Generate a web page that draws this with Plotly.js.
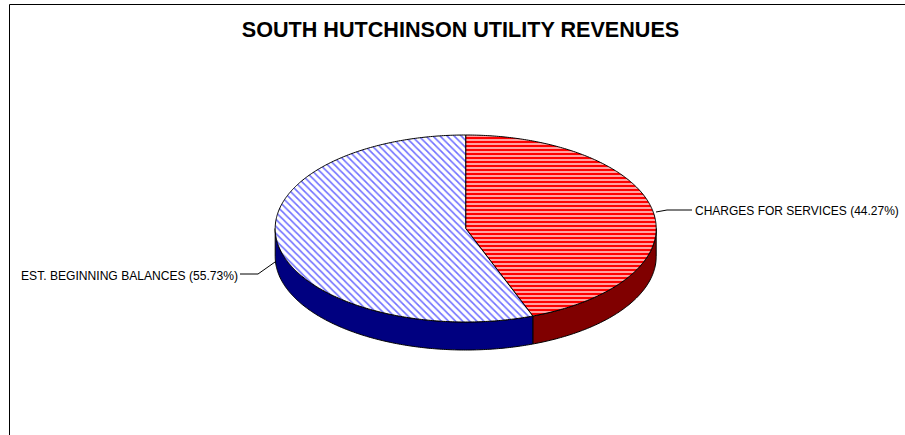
<!DOCTYPE html>
<html>
<head>
<meta charset="utf-8">
<script src="https://cdn.plot.ly/plotly-3.0.1.min.js"></script>
<style>html,body{margin:0;padding:0;background:#fff;overflow:hidden}#chart{width:905px;height:435px}</style>
</head>
<body>
<div id="chart"></div>
<script>
const categories = ['CHARGES FOR SERVICES', 'EST. BEGINNING BALANCES'];
const shares = [44.27, 55.73];
const wallColors = ['#800000', '#000080'];
const patternColors = ['#ff0000', '#7070ff'];
const patternBacks = ['#ffc8c8', '#ffffff'];
const patternShapes = ['-', '\\'];
const patternSizes = [4, 5];
const patternSolidity = [0.6, 0.32];

const W = 905, H = 435;
const cx = 465.7, cy = 228.5, rx = 190.5, ry = 93.5, depth = 28;

function rim(aDeg, dy) {
  const a = aDeg * Math.PI / 180;
  return [cx + rx * Math.sin(a), cy - ry * Math.cos(a) + dy];
}
function arc(a0, a1, dy) {
  const n = Math.max(2, Math.ceil(Math.abs(a1 - a0) * 1.5));
  const out = [];
  for (let i = 0; i <= n; i++) out.push(rim(a0 + (a1 - a0) * i / n, dy));
  return out;
}
function poly(pts, extra) {
  return Object.assign({
    type: 'scatter', mode: 'lines', fill: 'toself', hoverinfo: 'skip', showlegend: false,
    x: pts.map(p => p[0]), y: pts.map(p => p[1]),
    line: {color: '#000000', width: 1, simplify: false}
  }, extra);
}

const total = shares.reduce((a, b) => a + b, 0);
const edges = [0];
shares.forEach((s, i) => edges.push(edges[i] + s / total * 360));

const traces = [];
// side walls: only the part of each slice on the near half of the ellipse
shares.forEach((s, i) => {
  const a0 = Math.max(edges[i], 90), a1 = Math.min(edges[i + 1], 270);
  if (a1 <= a0) return;
  const pts = arc(a0, a1, 0).concat(arc(a1, a0, depth));
  pts.push(pts[0]);
  traces.push(poly(pts, {fillcolor: wallColors[i]}));
});
// top faces
shares.forEach((s, i) => {
  const pts = [[cx, cy]].concat(arc(edges[i], edges[i + 1], 0));
  pts.push([cx, cy]);
  traces.push(poly(pts, {
    fillcolor: '#ffffff',
    fillpattern: {shape: patternShapes[i], fgcolor: patternColors[i], bgcolor: patternBacks[i],
                  size: patternSizes[i], solidity: patternSolidity[i]}
  }));
});

// leader lines
const leaderX = [[656, 667, 692], [275, 258, 240]];
const leaderY = [[212, 210, 210], [262, 274, 274]];
leaderX.forEach((xs, i) => traces.push({
  type: 'scatter', mode: 'lines', x: xs, y: leaderY[i], hoverinfo: 'skip', showlegend: false,
  line: {color: '#000000', width: 1}
}));

const fmt = i => categories[i] + ' (' + shares[i].toFixed(2) + '%)';
const layout = {
  width: W, height: H, margin: {l: 0, r: 0, t: 0, b: 0},
  paper_bgcolor: '#ffffff', plot_bgcolor: '#ffffff', showlegend: false,
  font: {family: '"Liberation Sans", Arial, sans-serif', color: '#000000'},
  title: {text: '<b>SOUTH HUTCHINSON UTILITY REVENUES</b>', x: 460.5 / W, xanchor: 'center',
          y: 1 - 29.5 / H, yanchor: 'middle', font: {size: 21.6, color: '#000000'}},
  xaxis: {range: [0, W], visible: false, fixedrange: true},
  yaxis: {range: [H, 0], visible: false, fixedrange: true},
  annotations: [
    {text: fmt(0), x: 695, y: 211, xanchor: 'left', yanchor: 'middle', showarrow: false,
     font: {size: 12, color: '#000000'}, xref: 'x', yref: 'y', borderpad: 0, borderwidth: 0},
    {text: fmt(1), x: 237.5, y: 276, xanchor: 'right', yanchor: 'middle', showarrow: false,
     font: {size: 12.1, color: '#000000'}, xref: 'x', yref: 'y', borderpad: 0, borderwidth: 0}
  ],
  shapes: [
    {type: 'line', xref: 'paper', yref: 'paper', x0: 9.5 / W, x1: 1, y0: 1 - 4.5 / H, y1: 1 - 4.5 / H,
     line: {color: '#000000', width: 1}},
    {type: 'line', xref: 'paper', yref: 'paper', x0: 9.5 / W, x1: 9.5 / W, y0: 1 - 4.5 / H, y1: 0,
     line: {color: '#000000', width: 1}}
  ]
};
Plotly.newPlot('chart', traces, layout, {displayModeBar: false, staticPlot: true});
</script>
</body>
</html>
